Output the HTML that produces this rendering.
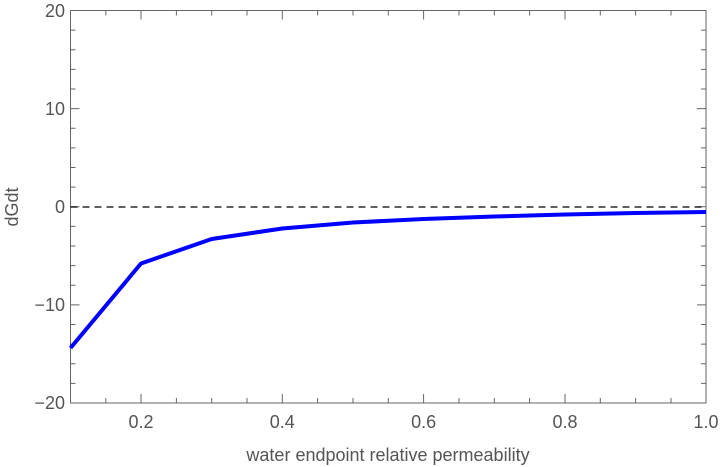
<!DOCTYPE html>
<html><head><style>body{margin:0;background:#fff}svg{display:block}text{font-family:"Liberation Sans",sans-serif;fill:#555;font-size:18px}</style></head>
<body>
<svg width="720" height="467" viewBox="0 0 720 467">
<rect x="70.5" y="10.5" width="635.5" height="392.5" fill="none" stroke="#666" stroke-width="1"/>
<g stroke="#666" stroke-width="1">
<path d="M70.5 10.5h9M70.5 108.6h9M70.5 206.8h9M70.5 304.9h9M70.5 403h9
M706 10.5h-9M706 108.6h-9M706 206.8h-9M706 304.9h-9M706 403h-9
M70.5 30.1h5M70.5 49.8h5M70.5 69.4h5M70.5 89h5M70.5 128.3h5M70.5 147.9h5M70.5 167.5h5M70.5 187.1h5M70.5 226.4h5M70.5 246h5M70.5 265.6h5M70.5 285.3h5M70.5 324.5h5M70.5 344.1h5M70.5 363.8h5M70.5 383.4h5
M706 30.1h-5M706 49.8h-5M706 69.4h-5M706 89h-5M706 128.3h-5M706 147.9h-5M706 167.5h-5M706 187.1h-5M706 226.4h-5M706 246h-5M706 265.6h-5M706 285.3h-5M706 324.5h-5M706 344.1h-5M706 363.8h-5M706 383.4h-5"/>
<path d="M141 403v-9M282.3 403v-9M423.6 403v-9M565 403v-9M141 10.5v9M282.3 10.5v9M423.6 10.5v9M565 10.5v9
M105.8 403v-5M211.7 403v-5M247 403v-5M317.6 403v-5M353 403v-5M388.3 403v-5M459 403v-5M494.3 403v-5M529.6 403v-5M600.3 403v-5M635.6 403v-5M671 403v-5
M105.8 10.5v5M176.4 10.5v5M211.7 10.5v5M247 10.5v5M317.6 10.5v5M353 10.5v5M388.3 10.5v5M459 10.5v5M494.3 10.5v5M529.6 10.5v5M600.3 10.5v5M635.6 10.5v5M671 10.5v5M176.4 403v-5"/>
</g>
<line x1="70.5" y1="207" x2="706" y2="207" stroke="#000" stroke-width="1.3" stroke-dasharray="7,5"/>
<polyline fill="none" stroke="#0000ff" stroke-width="4" stroke-linejoin="round" points="70.5,348 141,263.5 211.7,239 282.3,228.5 353,222.5 423.6,219 494.3,216.5 565,214.5 635.6,213 706,212"/>
<g text-anchor="end">
<text x="65" y="17">20</text><text x="65" y="115">10</text><text x="65" y="213">0</text><text x="65" y="311">−10</text><text x="65" y="409">−20</text>
</g>
<g text-anchor="middle">
<text x="141" y="428">0.2</text><text x="282.3" y="428">0.4</text><text x="423.6" y="428">0.6</text><text x="565" y="428">0.8</text><text x="706" y="428">1.0</text>
<text x="388" y="461">water endpoint relative permeability</text>
<text transform="translate(18,207) rotate(-90)">dGdt</text>
</g>
</svg>
</body></html>
